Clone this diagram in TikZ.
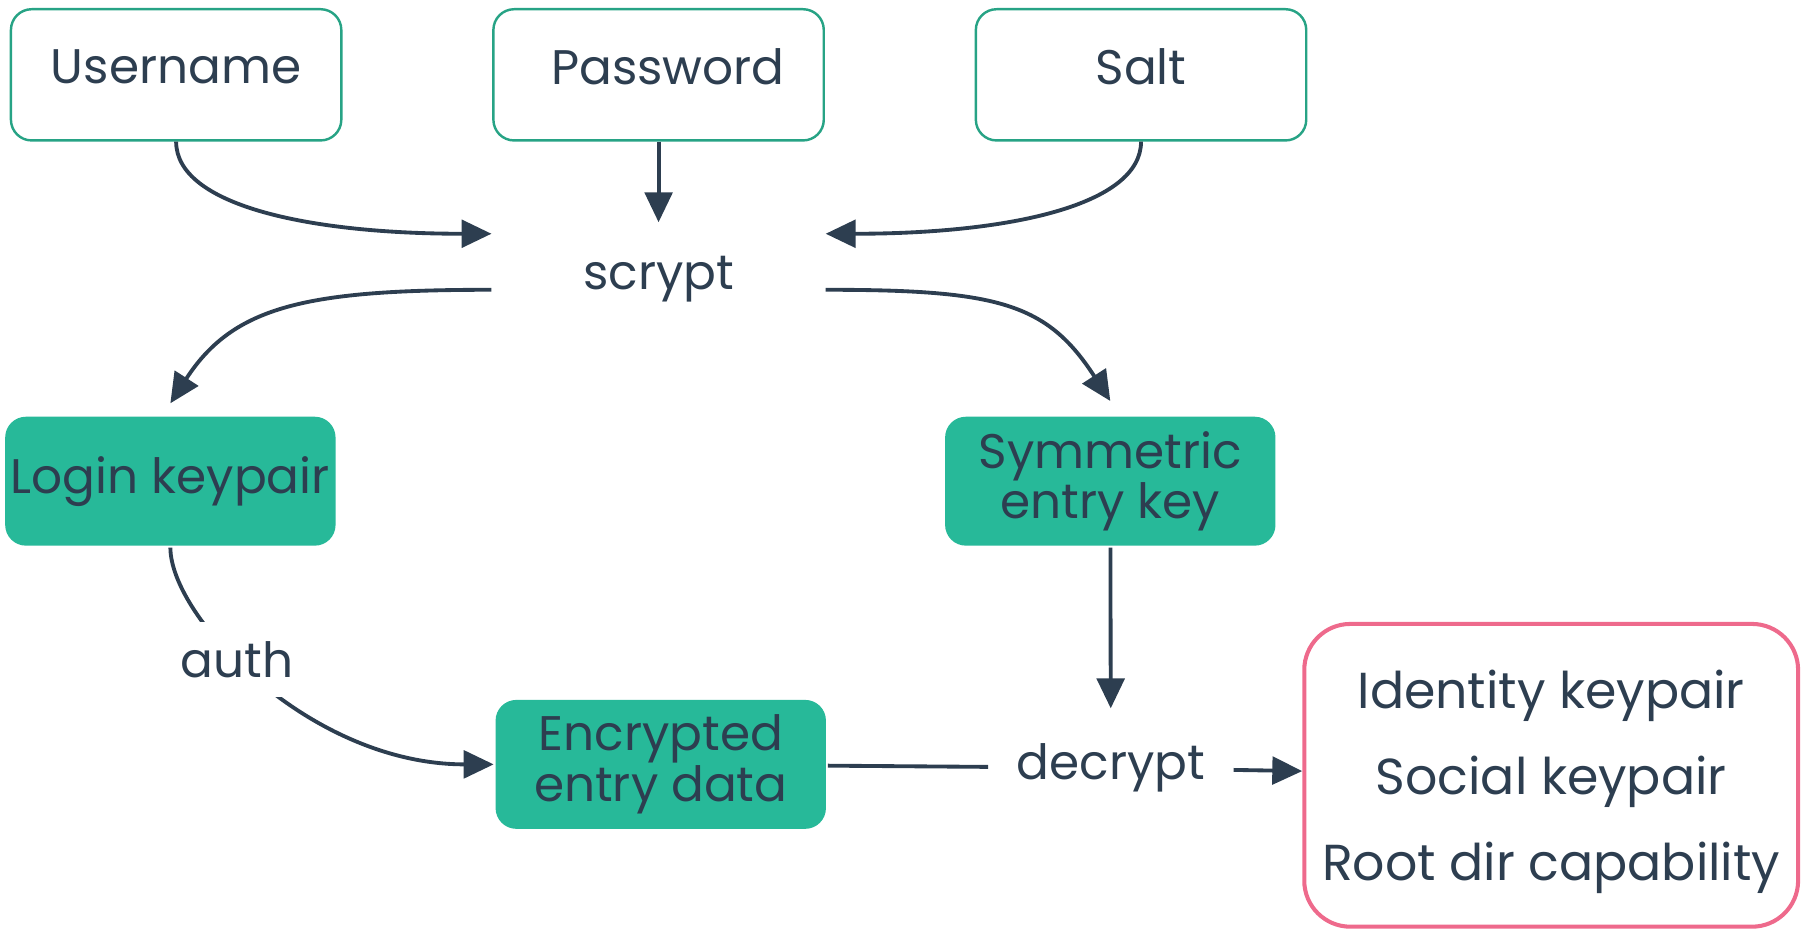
\documentclass[tikz,border=0pt]{standalone}
\usepackage{fontspec}
\setmainfont{Poppins}
\usetikzlibrary{arrows.meta,positioning}

\definecolor{ink}{HTML}{2D3E50}
\definecolor{teal}{HTML}{27A385}
\definecolor{mint}{HTML}{27B999}
\definecolor{rose}{HTML}{EE6A8C}

\begin{document}
\begin{tikzpicture}[-{Triangle[length=2.6mm,width=2.4mm]}, line width=0.95pt, draw=ink, text=ink,
  font=\fontsize{12}{12}\selectfont,
  input/.style = {draw=teal, line width=0.6pt, rounded corners=0.18cm, minimum width=2.87cm, minimum height=1.14cm, text depth=0.14cm},
  keybox/.style = {fill=mint, draw=none, rounded corners=0.18cm, minimum width=2.87cm, minimum height=1.12cm, inner xsep=1pt, align=center, font=\fontsize{12}{12.5}\selectfont},
  op/.style = {minimum width=2.87cm, minimum height=0.96cm},
  node distance = 1.3cm]

\useasboundingbox (0,0) rectangle (15.68,-8.08);

\node[input] (user) at (1.53,-0.65) {Username};
\node[input] (pass) [right=of user] {\hspace{0.16cm}Password};
\node[input] (salt) [right=of pass] {Salt};
\node[op] (scrypt) [below=0.7cm of pass] {scrypt};

\node[keybox] (login) at (1.48,-4.18) {Login keypair};
\node[keybox] (symm) at (9.645,-4.18) {Symmetric\\entry key};
\node[keybox] (enc) at (5.74,-6.64) {Encrypted\\entry data};
\node[op, minimum width=2.1cm, minimum height=1.0cm] (decrypt) at (9.65,-6.67) {decrypt};
\node[draw=rose, line width=1pt, rounded corners=0.4cm, minimum width=4.29cm, minimum height=2.63cm, align=center, text depth=0cm, font=\fontsize{12.5}{21.2}\selectfont] (out) at (13.475,-6.735) {Identity keypair\\Social keypair\\Root dir capability};

\draw (user.south) .. controls +(0,-0.55) and +(-1.6,0) .. ([yshift=-1mm]scrypt.north west);
\path (pass) edge (scrypt);
\draw (salt.south) .. controls +(0,-0.55) and +(1.6,0) .. ([yshift=-1mm]scrypt.north east);

\draw ([yshift=-0.9mm]scrypt.west) .. controls +(-1.6,0) and +(0.55,0.85) .. ([yshift=1mm]login.north);
\draw ([yshift=-0.9mm]scrypt.east) .. controls +(1.5,0) and +(-0.55,0.85) .. ([yshift=1.2mm]symm.north);

\draw (login.south) .. controls +(0,-0.6) and +(-1.6,0) .. node [pos=0.42, fill=white, inner sep=0.17cm] {auth} (enc.west);
\path (symm) edge (decrypt);
\path (enc) edge [-] (decrypt);
\path (decrypt) edge (out);

\end{tikzpicture}
\end{document}
